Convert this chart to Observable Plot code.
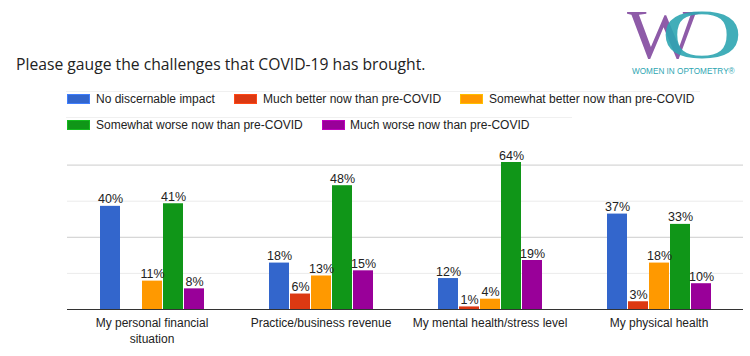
<!DOCTYPE html>
<html>
<head>
<meta charset="utf-8">
<script src="https://cdn.jsdelivr.net/npm/d3@7"></script>
<script src="https://cdn.jsdelivr.net/npm/@observablehq/plot@0.6"></script>
<style>
  html, body { margin: 0; padding: 0; background: #fff; }
  #wrap { position: relative; width: 750px; height: 356px; overflow: hidden; font-family: "Liberation Sans", Arial, sans-serif; }
  #title { position: absolute; left: 16px; top: 54px; font-family: "Open Sans", Roboto, sans-serif; font-size: 15.7px; line-height: 20px; color: #222; white-space: nowrap; }
  .leg { position: absolute; font-size: 12px; color: #222; white-space: nowrap; line-height: 14px; }
  .sw { position: absolute; width: 21px; height: 8px; border: 1px solid; }
  .legline { position: absolute; height: 1px; background: #f0f0f0; }
  #chart { position: absolute; left: 0; top: 140px; }
  #logo { position: absolute; left: 627px; top: 6px; height: 58px; font-family: "Liberation Serif", "DejaVu Serif", serif; font-size: 70px; line-height: 58px; white-space: nowrap; }
  #logo span { display: inline-block; }
  #logoW { color: #8e5ba8; transform: scaleX(1.1); transform-origin: left center; margin-right: -32px; }
  #logoO { color: #2ea6b2; transform: scaleX(1.62); transform-origin: left center; opacity: 0.9; }
  #logoT { position: absolute; left: 632px; top: 67px; font-family: "Liberation Sans", Arial, sans-serif; font-size: 8.2px; line-height: 10px; color: #2ea6b2; white-space: nowrap; }
</style>
</head>
<body>
<div id="wrap">
  <div id="logo"><span id="logoW">W</span><span id="logoO">O</span></div>
  <div id="logoT">WOMEN IN OPTOMETRY®</div>
  <div id="title">Please gauge the challenges that COVID-19 has brought.</div>
  <div id="legend"></div>
  <div id="chart"></div>
</div>
<script>
const categories = ["My personal financial situation", "Practice/business revenue", "My mental health/stress level", "My physical health"];
const categoryLabels = ["My personal financial\nsituation", "Practice/business revenue", "My mental health/stress level", "My physical health"];
const series = ["No discernable impact", "Much better now than pre-COVID", "Somewhat better now than pre-COVID", "Somewhat worse now than pre-COVID", "Much worse now than pre-COVID"];
const colors = ["#3366cc", "#dc3912", "#ff9900", "#109618", "#990099"];
const noImpact = [40, 18, 12, 37];
const muchBetter = [null, 6, 1, 3];
const somewhatBetter = [11, 13, 4, 18];
const somewhatWorse = [41, 48, 64, 33];
const muchWorse = [8, 15, 19, 10];
const majorTicks = [28, 56];
const minorTicks = [14, 42];

const seriesValues = [noImpact, muchBetter, somewhatBetter, somewhatWorse, muchWorse];
const data = categories.flatMap((c, i) =>
  series.map((s, j) => ({category: c, series: s, value: seriesValues[j][i]}))
).filter(d => d.value != null);

// Legend (HTML)
const legendPos = [
  {sx: 67, tx: 96, y: 94},
  {sx: 234, tx: 263, y: 94},
  {sx: 460, tx: 489, y: 94},
  {sx: 67, tx: 96, y: 120},
  {sx: 322, tx: 350, y: 120}
];
const legend = document.getElementById("legend");
[{x: 66, w: 634, y: 91}, {x: 66, w: 506, y: 117}].forEach(l => {
  const d = document.createElement("div");
  d.className = "legline";
  d.style.left = l.x + "px"; d.style.top = l.y + "px"; d.style.width = l.w + "px";
  legend.appendChild(d);
});
series.forEach((s, i) => {
  const p = legendPos[i];
  const sw = document.createElement("div");
  sw.className = "sw";
  sw.style.left = p.sx + "px";
  sw.style.top = p.y + "px";
  sw.style.background = colors[i];
  sw.style.borderColor = d3.color(colors[i]).brighter(0.6);
  legend.appendChild(sw);
  const t = document.createElement("div");
  t.className = "leg";
  t.style.left = p.tx + "px";
  t.style.top = (p.y - 2) + "px";
  t.textContent = s;
  legend.appendChild(t);
});

const chart = Plot.plot({
  width: 750,
  height: 216,
  marginTop: 22,
  marginBottom: 47,
  marginLeft: 66,
  marginRight: 7,
  style: {fontFamily: "'Liberation Sans', Arial, sans-serif", fontSize: "12px", color: "#222", background: "transparent"},
  fx: {domain: categories, padding: 0, axis: null},
  x: {domain: series, paddingInner: 0.05, paddingOuter: 1.5, axis: null},
  y: {domain: [0, 57], clamp: true, axis: null},
  color: {domain: series, range: colors},
  marks: [
    Plot.ruleY(minorTicks, {stroke: "#ebebeb"}),
    Plot.ruleY(majorTicks, {stroke: "#cccccc"}),
    Plot.barY(data, {fx: "category", x: "series", y: "value", fill: "series"}),
    Plot.text(data, {fx: "category", x: "series", y: "value", text: d => d.value + "%", lineAnchor: "bottom", dy: -3, fill: "#222", fontSize: 12.5}),
    Plot.ruleY([0], {stroke: "#333"}),
    Plot.axisFx({anchor: "bottom", label: null, tickSize: 0, tickPadding: 6, lineHeight: 1.36, fontSize: 12, fill: "#222", tickFormat: d => categoryLabels[categories.indexOf(d)]})
  ]
});
document.getElementById("chart").appendChild(chart);
</script>
</body>
</html>
